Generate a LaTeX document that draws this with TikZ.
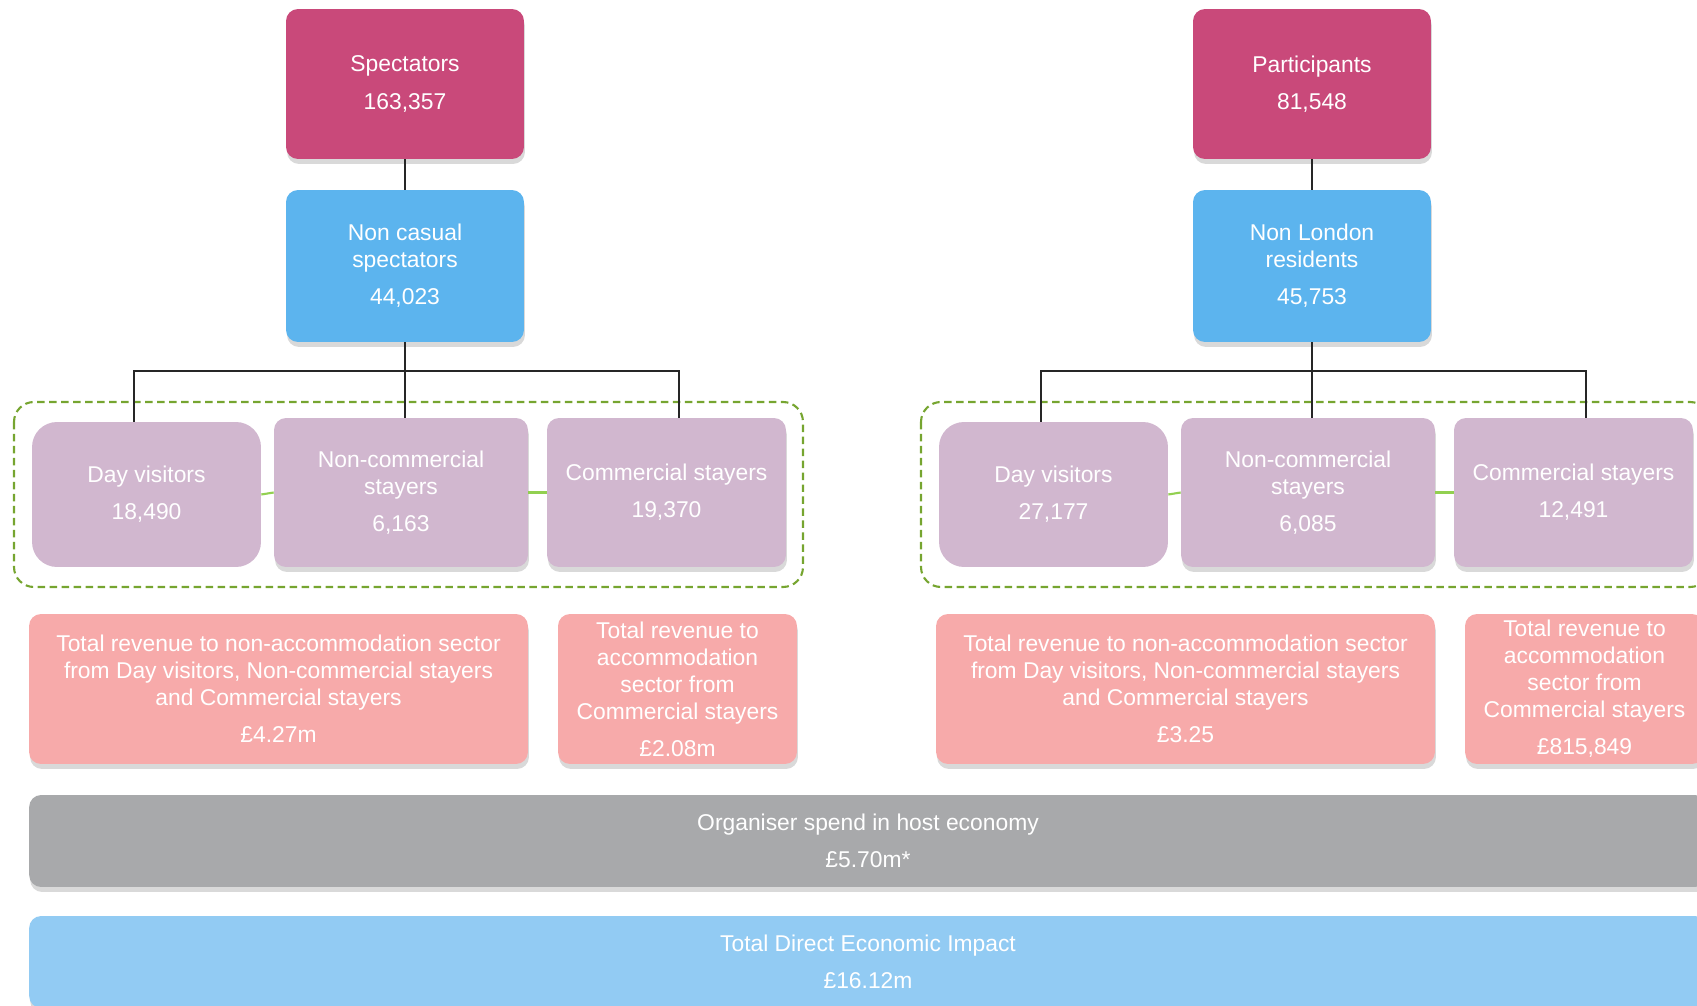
\documentclass[tikz,border=0pt]{standalone}
\usepackage{fontspec}
\setmainfont{Liberation Sans}
\usetikzlibrary{shadows}
\definecolor{specred}{HTML}{C9497A}
\definecolor{nonblue}{HTML}{5CB4EE}
\definecolor{lilac}{HTML}{D1B7CF}
\definecolor{revpink}{HTML}{F7AAAA}
\definecolor{orggray}{HTML}{A8A9AB}
\definecolor{totblue}{HTML}{92CBF3}
\definecolor{dashgreen}{HTML}{76A530}
\definecolor{linkgreen}{HTML}{92D050}
\tikzset{
  flowbox/.style={rounded corners=0.24cm, text=white, align=center, inner sep=0pt,
    font=\fontsize{13pt}{15.4pt}\selectfont},
  shadowbox/.style={flowbox, drop shadow={shadow xshift=0.02cm, shadow yshift=-0.1cm, opacity=0.3}},
  topbox/.style={shadowbox, fill=specred, minimum width=4.76cm, minimum height=3cm},
  midbox/.style={shadowbox, fill=nonblue, minimum width=4.76cm, minimum height=3.04cm},
  daybox/.style={flowbox, rounded corners=0.5cm, fill=lilac, minimum width=4.58cm, minimum height=2.9cm},
  staybox/.style={shadowbox, fill=lilac, minimum width=4.78cm, minimum height=2.98cm},
  revbox/.style={shadowbox, fill=revpink, minimum width=4.78cm, minimum height=3cm},
  widebox/.style={shadowbox, minimum width=33.56cm, minimum height=1.84cm},
  treeline/.style={line width=0.9pt, black!85},
  linkline/.style={line width=1.2pt, linkgreen},
  groupline/.style={line width=1.2pt, dashgreen, dash pattern=on 0.15cm off 0.09cm, rounded corners=0.4cm}
}
\begin{document}
\begin{tikzpicture}[x=0.02cm, y=-0.02cm]
  \useasboundingbox (0,0) rectangle (1697,1006);
  % spectators
  \draw[groupline] (14,402) rectangle (803,587);
  \node[topbox] (spec) at (405,84) {Spectators\\[0.2cm]163,357};
  \node[midbox] (noncas) at (405,266) {Non casual\\spectators\\[0.2cm]44,023};
  \node[daybox] (dayS) at (146.5,494.5) {Day visitors\\[0.2cm]18,490};
  \node[staybox, minimum width=5.08cm] (noncomS) at (401,492.5) {Non-commercial\\stayers\\[0.2cm]6,163};
  \node[staybox] (comS) at (666.5,492.5) {Commercial stayers\\[0.2cm]19,370};
  \node[revbox, minimum width=9.98cm] (revS) at (278.5,689) {Total revenue to non-accommodation sector\\from Day visitors, Non-commercial stayers\\and Commercial stayers\\[0.2cm]£4.27m};
  \node[revbox] (accS) at (677.5,689) {Total revenue to\\accommodation\\sector from\\Commercial stayers\\[0.2cm]£2.08m};
  \coordinate (barSL) at (134,371);
  \coordinate (barSR) at (679,371);
  \draw[treeline] (spec) -- (noncas);
  \draw[treeline] (noncas.south) -- (noncas.south |- noncomS.north);
  \draw[treeline] (barSL |- dayS.north) -- (barSL) -- (barSR) -- (barSR |- comS.north);
  \draw[linkline] (dayS.east) -- (noncomS.west);
  \draw[linkline] (noncomS.east) -- (comS.west);
  % participants
  \draw[groupline] (921,402) rectangle (1710,587);
  \node[topbox] (part) at (1312,84) {Participants\\[0.2cm]81,548};
  \node[midbox] (nonlon) at (1312,266) {Non London\\residents\\[0.2cm]45,753};
  \node[daybox] (dayP) at (1053.5,494.5) {Day visitors\\[0.2cm]27,177};
  \node[staybox, minimum width=5.08cm] (noncomP) at (1308,492.5) {Non-commercial\\stayers\\[0.2cm]6,085};
  \node[staybox] (comP) at (1573.5,492.5) {Commercial stayers\\[0.2cm]12,491};
  \node[revbox, minimum width=9.98cm] (revP) at (1185.5,689) {Total revenue to non-accommodation sector\\from Day visitors, Non-commercial stayers\\and Commercial stayers\\[0.2cm]£3.25};
  \node[revbox] (accP) at (1584.5,689) {Total revenue to\\accommodation\\sector from\\Commercial stayers\\[0.2cm]£815,849};
  \coordinate (barPL) at (1041,371);
  \coordinate (barPR) at (1586,371);
  \draw[treeline] (part) -- (nonlon);
  \draw[treeline] (nonlon.south) -- (nonlon.south |- noncomP.north);
  \draw[treeline] (barPL |- dayP.north) -- (barPL) -- (barPR) -- (barPR |- comP.north);
  \draw[linkline] (dayP.east) -- (noncomP.west);
  \draw[linkline] (noncomP.east) -- (comP.west);
  % totals
  \node[widebox, fill=orggray] (org) at (868,841) {Organiser spend in host economy\\[0.2cm]£5.70m*};
  \node[widebox, fill=totblue] (total) at (868,962) {Total Direct Economic Impact\\[0.2cm]£16.12m};
\end{tikzpicture}
\end{document}
